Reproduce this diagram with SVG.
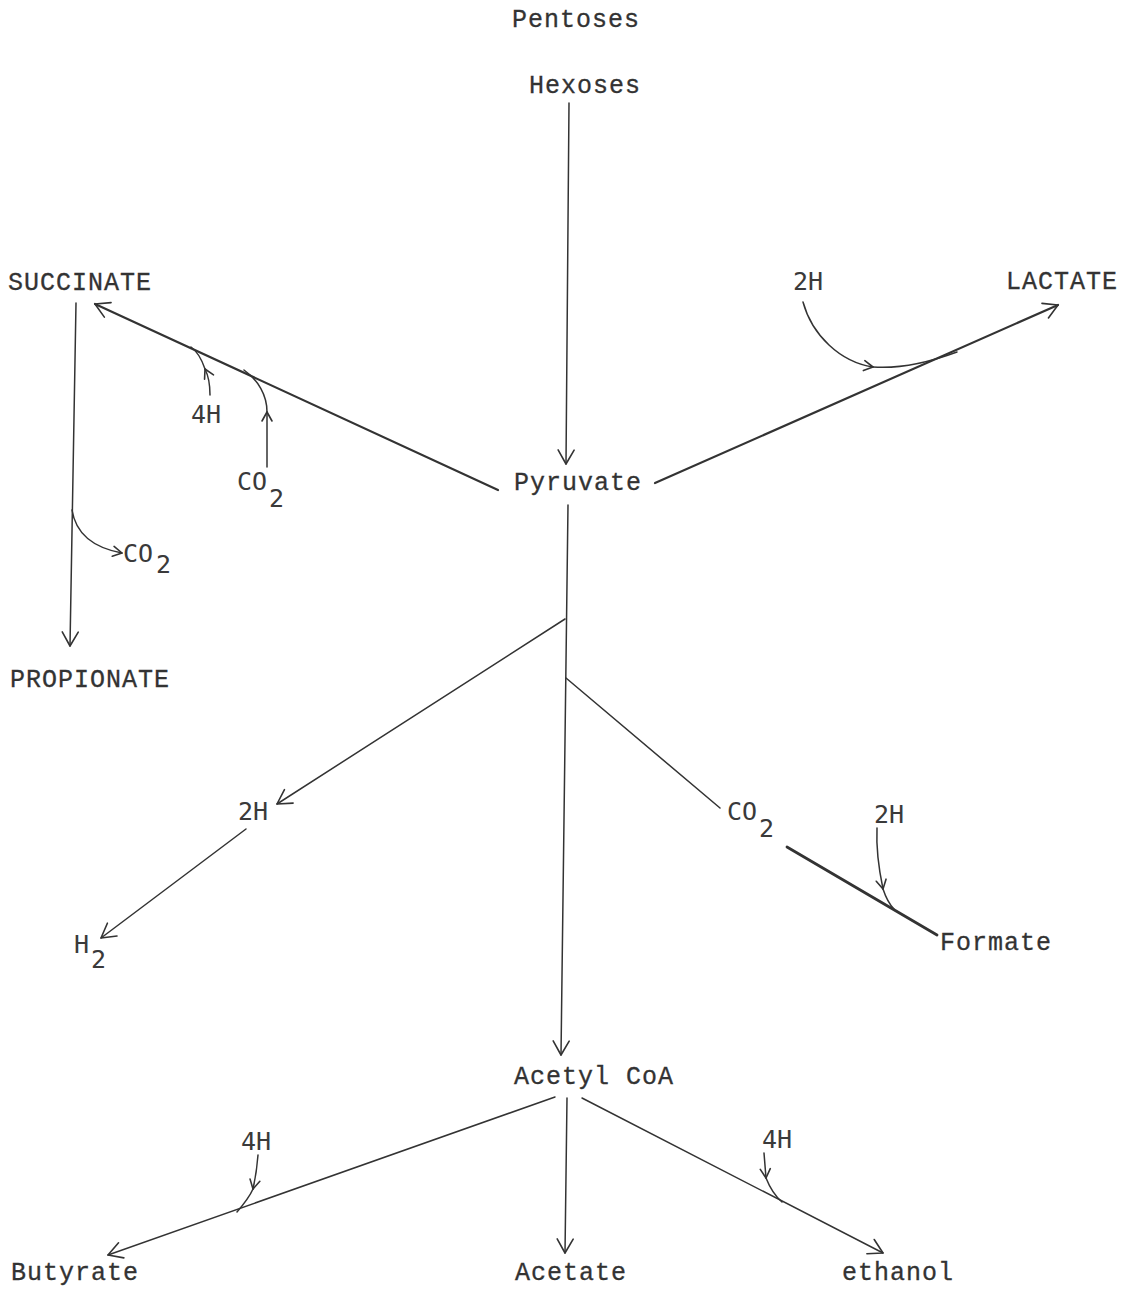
<svg xmlns="http://www.w3.org/2000/svg" width="1124" height="1289" viewBox="0 0 1124 1289">
<style>
.tw{font-family:"Liberation Mono","Courier New",monospace;font-size:25px;letter-spacing:1px;fill:#333;stroke:#333;stroke-width:0.3}
.lt{font-family:"DejaVu Sans Mono","Liberation Mono",monospace;font-size:25px;fill:#3a3a3a}
.c{fill:none;stroke:#333;stroke-width:1.5;stroke-linecap:round}
.thk{stroke-width:2.2}
.ah{fill:none;stroke:#333;stroke-width:1.6;stroke-linecap:round;stroke-linejoin:round}
</style>
<defs>
<marker id="arr" viewBox="-16 -10 18 20" markerWidth="18" markerHeight="20" refX="0" refY="0" markerUnits="userSpaceOnUse" orient="auto">
<path class="ah" d="M-14,-8 L0,0 L-14,8"/>
</marker>
<marker id="sm" viewBox="-11 -7 13 14" markerWidth="13" markerHeight="14" refX="0" refY="0" markerUnits="userSpaceOnUse" orient="auto">
<path class="ah" d="M-9,-5 L0,0 L-9,5"/>
</marker>
</defs>
<rect width="1124" height="1289" fill="#fff"/>
<g id="connectors">
<path class="c" d="M569,103 L566,464" marker-end="url(#arr)"/>
<path class="c thk" d="M498,490 L95,304" marker-end="url(#arr)"/>
<path class="c thk" d="M655,483 L1058,305" marker-end="url(#arr)"/>
<path class="c" d="M803,302 C812,335 840,362 873,367" marker-end="url(#sm)"/>
<path class="c" d="M873,367 C900,369 930,362 957,352"/>
<path class="c" d="M210,395 C210,385 208,375 205,369" marker-end="url(#sm)"/>
<path class="c" d="M205,369 C202,360 198,352 191,347"/>
<path class="c" d="M267,467 L267,412" marker-end="url(#sm)"/>
<path class="c" d="M267,412 C267,395 258,380 244,370"/>
<path class="c" d="M76,303 L70,646" marker-end="url(#arr)"/>
<path class="c" d="M72,510 C76,535 95,548 122,553" marker-end="url(#sm)"/>
<path class="c" d="M568,505 L561,1055" marker-end="url(#arr)"/>
<path class="c" d="M565,619 L277,804" marker-end="url(#arr)"/>
<path class="c" d="M246,829 L101,938" marker-end="url(#arr)"/>
<path class="c" d="M566,678 L720,808"/>
<path class="c" style="stroke-width:2.8" d="M787,847 L937,935"/>
<path class="c" d="M877,828 C876,850 879,870 883,889" marker-end="url(#sm)"/>
<path class="c" d="M883,889 C886,898 889,904 894,909"/>
<path class="c" d="M555,1097 L108,1255" marker-end="url(#arr)"/>
<path class="c" d="M258,1155 C257,1168 255,1180 253,1189" marker-end="url(#sm)"/>
<path class="c" d="M253,1189 C249,1198 243,1205 237,1212"/>
<path class="c" d="M567,1098 L565,1253" marker-end="url(#arr)"/>
<path class="c" d="M582,1098 L883,1253" marker-end="url(#arr)"/>
<path class="c" d="M764,1153 L766,1178" marker-end="url(#sm)"/>
<path class="c" d="M766,1178 C770,1188 775,1196 782,1202"/>
</g>
<g id="pentoses"><text class="tw" x="512" y="27">Pentoses</text></g>
<g id="hexoses"><text class="tw" x="529" y="93">Hexoses</text></g>
<g id="succinate"><text class="tw" x="8" y="290">SUCCINATE</text></g>
<g id="lactate"><text class="tw" x="1006" y="289">LACTATE</text></g>
<g id="h2-lactate"><text class="lt" x="793" y="290">2H</text></g>
<g id="h4-succ"><text class="lt" x="191" y="423">4H</text></g>
<g id="co2-succ"><text class="lt" x="237" y="490">CO</text><text class="lt" x="269" y="507">2</text></g>
<g id="pyruvate"><text class="tw" x="514" y="490">Pyruvate</text></g>
<g id="co2-prop"><text class="lt" x="123" y="562">CO</text><text class="lt" x="156" y="573">2</text></g>
<g id="propionate"><text class="tw" x="10" y="687">PROPIONATE</text></g>
<g id="h2-left"><text class="lt" x="238" y="820">2H</text></g>
<g id="hydrogen"><text class="lt" x="74" y="953">H</text><text class="lt" x="91" y="968">2</text></g>
<g id="co2-right"><text class="lt" x="727" y="820">CO</text><text class="lt" x="759" y="837">2</text></g>
<g id="h2-formate"><text class="lt" x="874" y="823">2H</text></g>
<g id="formate"><text class="tw" x="940" y="950">Formate</text></g>
<g id="acetylcoa"><text class="tw" x="514" y="1084">Acetyl CoA</text></g>
<g id="h4-butyrate"><text class="lt" x="241" y="1150">4H</text></g>
<g id="butyrate"><text class="tw" x="11" y="1280">Butyrate</text></g>
<g id="acetate"><text class="tw" x="515" y="1280">Acetate</text></g>
<g id="h4-ethanol"><text class="lt" x="762" y="1148">4H</text></g>
<g id="ethanol"><text class="tw" x="842" y="1280">ethanol</text></g>
</svg>
